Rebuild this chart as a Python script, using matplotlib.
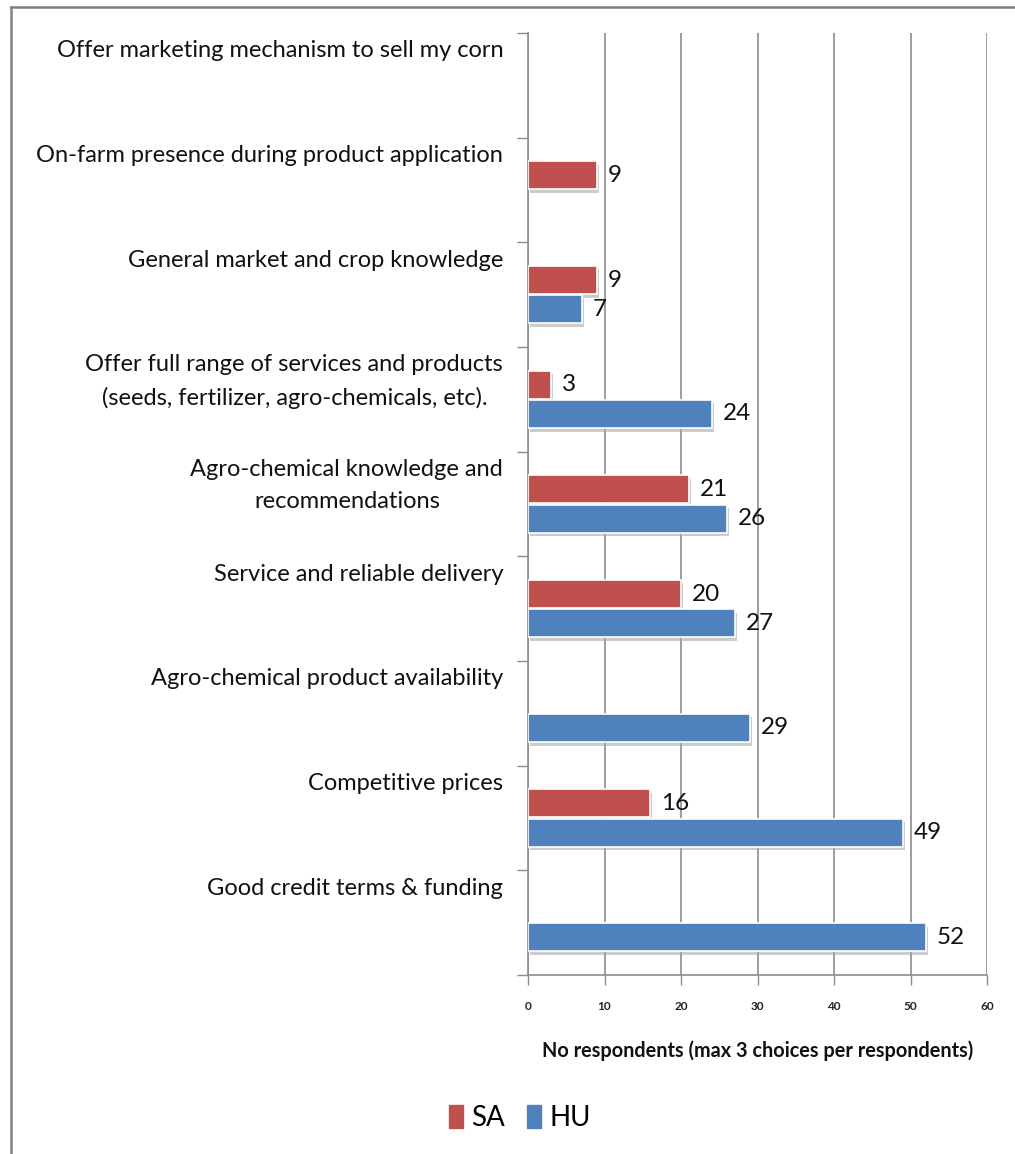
import matplotlib
matplotlib.use("Agg")
import matplotlib.pyplot as plt
import matplotlib.patheffects as pe
from matplotlib.lines import Line2D
from matplotlib.patches import Patch
import matplotlib.transforms as mtransforms
import numpy as np

plt.rcParams['font.family'] = ['Lato', 'DejaVu Sans']

# categories listed top to bottom, None = no bar
categories = [
    "Offer marketing mechanism to sell my corn",
    "On-farm presence during product application",
    "General market and crop knowledge",
    "Offer full range of services and products\n(seeds, fertilizer, agro-chemicals, etc).",
    "Agro-chemical knowledge and\nrecommendations",
    "Service and reliable delivery",
    "Agro-chemical product availability",
    "Competitive prices",
    "Good credit terms & funding",
]
sa_values = [None, 9, 9, 3, 21, 20, None, 16, None]
hu_values = [None, None, 7, 24, 26, 27, 29, 49, 52]
x_ticks = [0, 10, 20, 30, 40, 50, 60]

red = '#C0504D'
blue = '#4F81BD'
grid_col = '#8C8C8C'

W, H = 1015, 1154
fig = plt.figure(figsize=(W / 100, H / 100), dpi=100)
ax = fig.add_axes([528 / W, 1 - 975 / H, (987 - 528) / W, (975 - 33) / H])

n = len(categories)
ypos = np.arange(n)[::-1]  # top category gets highest y
bar_h = 0.27
shift = 0.14
shadow = [pe.SimplePatchShadow(offset=(1.5, -2.5), shadow_rgbFace='#aaaaaa', alpha=0.6), pe.Normal()]
label_tr = ax.transData + mtransforms.ScaledTranslation(11 / 100, 0, fig.dpi_scale_trans)

def draw_series(vals, offset, color):
    for y, v in zip(ypos, vals):
        if v is None:
            continue
        b = ax.barh(y + offset, v, height=bar_h, color=color, edgecolor='white', linewidth=1.2, zorder=3)
        for r in b:
            r.set_path_effects(shadow)
        ax.text(v, y + offset, str(v), va='center', ha='left', fontsize=17.5,
                color='#111111', zorder=4, transform=label_tr)

draw_series(sa_values, shift, red)
draw_series(hu_values, -shift, blue)

ax.set_xlim(0, 60)
ax.set_ylim(-0.5, n - 0.5)

# category labels sit near the top of each band
for y, lab in zip(ypos, categories):
    ax.text(-0.054, y + 0.5 - 0.07, lab, transform=ax.get_yaxis_transform(), ha='right', va='top',
            multialignment='center', fontsize=17, linespacing=1.62, color='#111111')

ax.set_yticks([])
ax.set_yticks(np.arange(-0.5, n), minor=True)
ax.tick_params(axis='y', which='minor', length=8, color=grid_col, width=1)
ax.set_xticks(x_ticks)
ax.set_xticklabels([str(t) for t in x_ticks], fontsize=8.5, fontweight='bold', color='#222222')
ax.tick_params(axis='x', length=7, color=grid_col, width=1, pad=12)

ax.grid(axis='x', color=grid_col, linewidth=1.2, zorder=0)
ax.set_axisbelow(True)
for side in ['top', 'right']:
    ax.spines[side].set_visible(False)
for side in ['left', 'bottom']:
    ax.spines[side].set_color(grid_col)
    ax.spines[side].set_linewidth(1.2)

ax.set_xlabel("No respondents (max 3 choices per respondents)", fontsize=14.3, fontweight='bold',
              labelpad=20, color='#111111')

handles = [Patch(color=red, label='SA'), Patch(color=blue, label='HU')]
fig.legend(handles=handles, loc='center', bbox_to_anchor=(520 / W, 1 - 1118 / H), ncol=2, frameon=False,
           fontsize=20, handlelength=0.5, handleheight=0.9, handletextpad=0.3, columnspacing=0.8)

# outer frame (top and left edge only)
fig.add_artist(Line2D([11 / W, 1], [1 - 7 / H, 1 - 7 / H], color='#808080', linewidth=1.8, transform=fig.transFigure))
fig.add_artist(Line2D([11 / W, 11 / W], [0, 1 - 7 / H], color='#808080', linewidth=1.8, transform=fig.transFigure))

fig.savefig('out.png', dpi=100)
